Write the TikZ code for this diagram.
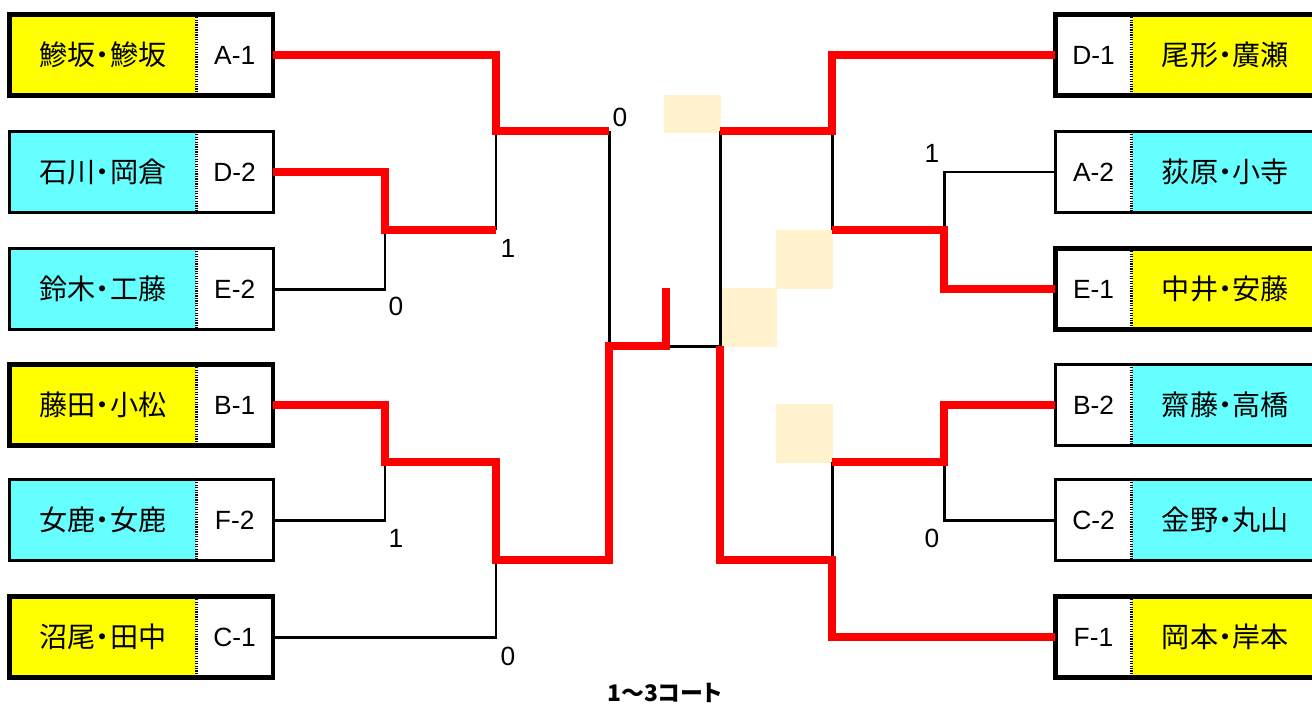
\documentclass[tikz,border=0pt]{standalone}
\usepackage{fontspec}
\setmainfont{Liberation Sans}
\newfontfamily\cjk[RawFeature=+palt]{Noto Sans CJK JP}
\usetikzlibrary{positioning}
\definecolor{plyel}{HTML}{FFFF00}
\definecolor{plcyan}{HTML}{66FFFF}
\definecolor{wonred}{HTML}{FF0000}
\definecolor{pale}{HTML}{FFF2CC}
\tikzset{
  namebox/.style={minimum width=3.72cm, minimum height=1.6cm, inner sep=0pt,
    font=\cjk\fontsize{16pt}{18pt}\selectfont},
  codebox/.style={minimum width=1.52cm, minimum height=1.6cm, inner sep=0pt,
    fill=white, font=\fontsize{15pt}{17pt}\selectfont},
  score/.style={inner sep=0pt, font=\fontsize{15pt}{17pt}\selectfont},
  win/.style={draw=wonred, line width=4.5pt},
  lose/.style={draw=black, line width=1.7pt},
  sepline/.style={draw=black, line width=1.8pt, dash pattern=on 0.7pt off 0.7pt},
}

\begin{document}
\begin{tikzpicture}[x=0.02cm, y=-0.02cm]
\useasboundingbox (0,0) rectangle (1312,707);

% table squares
\fill[pale] (664,95) rectangle (721,133);
\fill[pale] (776,230) rectangle (833,289);
\fill[pale] (721,288) rectangle (777,347);
\fill[pale] (776,404) rectangle (833,463);

% left side
\foreach \i/\y/\nm/\cd/\col/\bw in {
  1/55/鰺坂・鰺坂/A-1/plyel/2.8pt, 2/172/石川・岡倉/D-2/plcyan/1.7pt,
  3/289/鈴木・工藤/E-2/plcyan/1.7pt, 4/405/藤田・小松/B-1/plyel/2.8pt,
  5/520/女鹿・女鹿/F-2/plcyan/1.7pt, 6/637/沼尾・田中/C-1/plyel/2.8pt}{
  \node[namebox, fill=\col] (Ln\i) at (103,\y) {\nm};
  \node[codebox, right=0pt of Ln\i] (L\i) {\cd};
  \draw[sepline] (L\i.north west) -- (L\i.south west);
  \draw[line width=\bw] (Ln\i.north west) rectangle (L\i.south east);
}
% right side
\foreach \i/\y/\nm/\cd/\col/\bw in {
  1/55/尾形・廣瀬/D-1/plyel/2.8pt, 2/172/荻原・小寺/A-2/plcyan/1.7pt,
  3/289/中井・安藤/E-1/plyel/2.8pt, 4/405/齋藤・高橋/B-2/plcyan/1.7pt,
  5/520/金野・丸山/C-2/plcyan/1.7pt, 6/637/岡本・岸本/F-1/plyel/2.8pt}{
  \node[codebox] (R\i) at (1093.5,\y) {\cd};
  \node[namebox, fill=\col, right=0pt of R\i] (Rn\i) {\nm};
  \draw[sepline] (R\i.north east) -- (R\i.south east);
  \draw[line width=\bw] (R\i.north west) rectangle (Rn\i.south east);
}

\coordinate (ls1) at (385,230);
\coordinate (ls2) at (385,462);
\coordinate (lq1) at (496,131);
\coordinate (lq2) at (496,560);
\coordinate (lf) at (609,346);
\coordinate (ctr) at (666,346);
\coordinate (ctrtop) at (666,288);
\coordinate (rs1) at (944,230);
\coordinate (rs2) at (944,462);
\coordinate (rq1) at (832,131);
\coordinate (rq2) at (832,560);
\coordinate (rf) at (720,346);

% losers
\draw[lose] (L3.east) -| (ls1);
\draw[lose] (L5.east) -| (ls2);
\draw[lose] (L6.east) -| (lq2);
\draw[lose] (ls1 -| lq1) -- (lq1);
\draw[lose] (lq1 -| lf) -- (lf);
\draw[lose] (ctr) -- (rf);
\draw[lose] (rq1 -| rf) -- (rf);
\draw[lose] (R2.west) -| (rs1);
\draw[lose] (R5.west) -| (rs2);
\draw[lose] (rs1 -| rq1) -- (rq1);
\draw[lose] (rs2 -| rq2) -- (rq2);

% winners
\draw[win] (L1.east) -| (lq1) -- (lq1 -| lf);
\draw[win] (L2.east) -| (ls1) -- (ls1 -| lq1);
\draw[win] (L4.east) -| (ls2) -- (ls2 -| lq2) -- (lq2) -- (lq2 -| lf)
  -- (lf) -- (ctr) -- (ctrtop);
\draw[win] (R1.west) -| (rq1) -- (rq1 -| rf);
\draw[win] (R3.west) -| (rs1) -- (rs1 -| rq1);
\draw[win] (R4.west) -| (rs2) -- (rs2 -| rq2);
\draw[win] (R6.west) -| (rq2) -- (rq2 -| rf) -- (rf);

% scores
\node[score] (sa) at (620,117) {0};
\node[score] (sb) at (508,248) {1};
\node[score] (sc) at (396,306) {0};
\node[score] (sd) at (396,538) {1};
\node[score] (se) at (508,656) {0};
\node[score] (sf) at (932,153) {1};
\node[score] (sg) at (932,538) {0};

\node[font=\cjk\bfseries\fontsize{13pt}{15pt}\selectfont] (court) at (665,693) {1〜3コート};
\end{tikzpicture}
\end{document}
